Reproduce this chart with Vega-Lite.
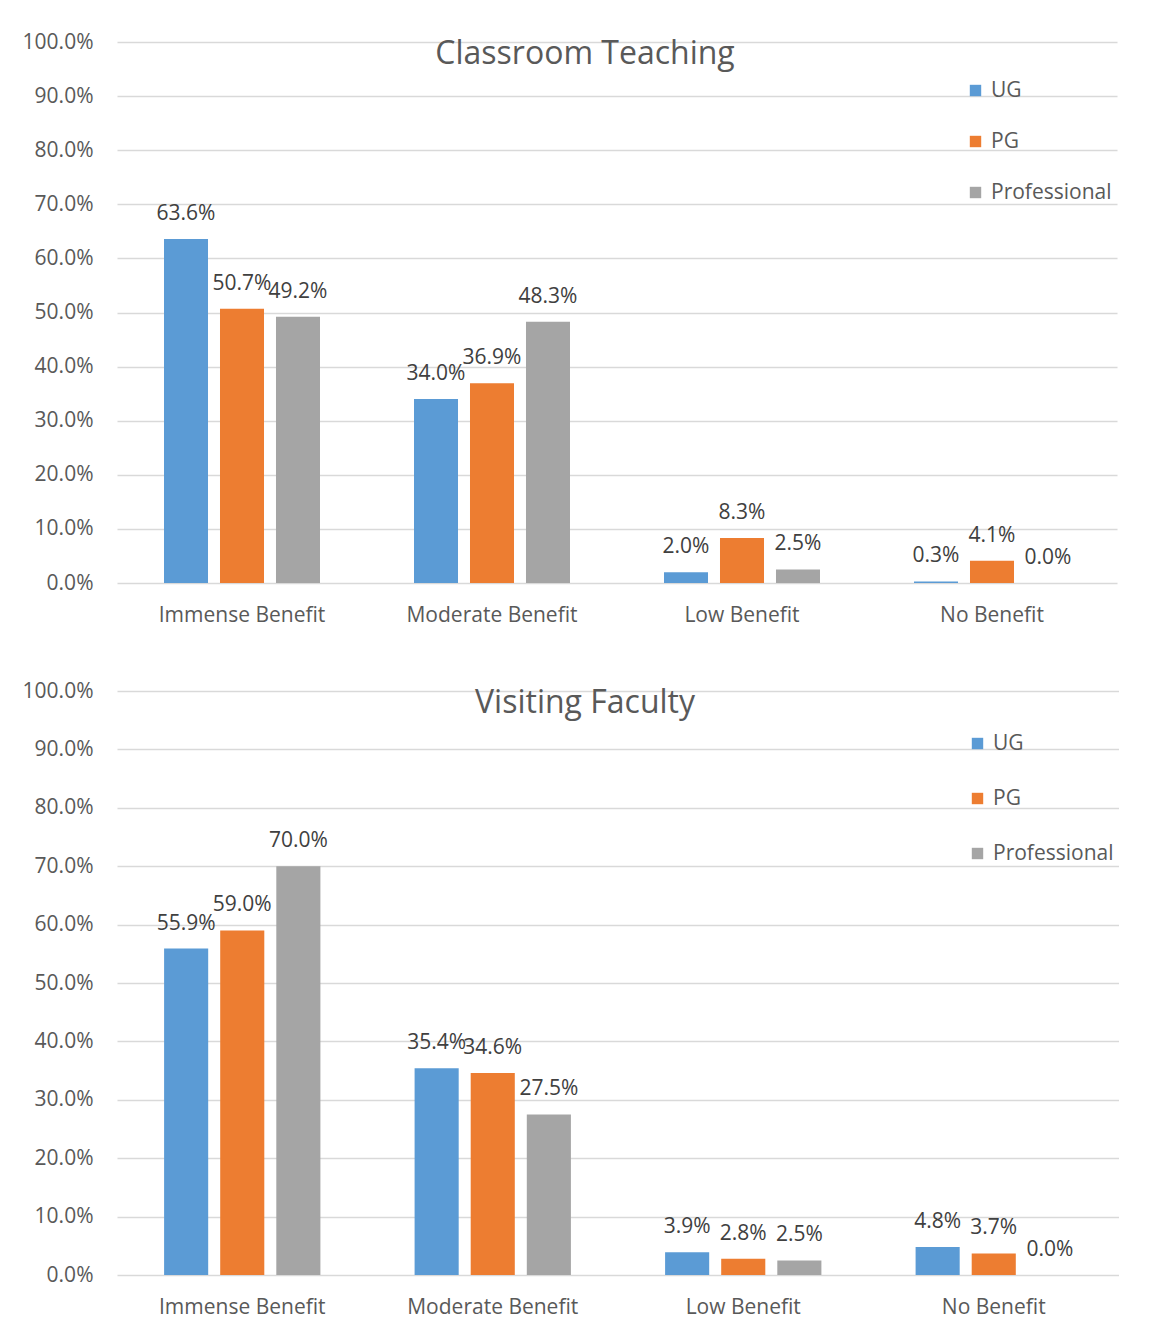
{
  "$schema": "https://vega.github.io/schema/vega-lite/v6.json",
  "background": "white",
  "padding": {"left": 22, "top": 31, "right": 0, "bottom": 20},
  "datasets": {
    "classroom": [
      {"benefit": "Immense Benefit", "group": "UG", "value": 0.636},
      {"benefit": "Immense Benefit", "group": "PG", "value": 0.507},
      {"benefit": "Immense Benefit", "group": "Professional", "value": 0.492},
      {"benefit": "Moderate Benefit", "group": "UG", "value": 0.340},
      {"benefit": "Moderate Benefit", "group": "PG", "value": 0.369},
      {"benefit": "Moderate Benefit", "group": "Professional", "value": 0.483},
      {"benefit": "Low Benefit", "group": "UG", "value": 0.020},
      {"benefit": "Low Benefit", "group": "PG", "value": 0.083},
      {"benefit": "Low Benefit", "group": "Professional", "value": 0.025},
      {"benefit": "No Benefit", "group": "UG", "value": 0.003},
      {"benefit": "No Benefit", "group": "PG", "value": 0.041},
      {"benefit": "No Benefit", "group": "Professional", "value": 0.000}
    ],
    "visiting": [
      {"benefit": "Immense Benefit", "group": "UG", "value": 0.559},
      {"benefit": "Immense Benefit", "group": "PG", "value": 0.590},
      {"benefit": "Immense Benefit", "group": "Professional", "value": 0.700},
      {"benefit": "Moderate Benefit", "group": "UG", "value": 0.354},
      {"benefit": "Moderate Benefit", "group": "PG", "value": 0.346},
      {"benefit": "Moderate Benefit", "group": "Professional", "value": 0.275},
      {"benefit": "Low Benefit", "group": "UG", "value": 0.039},
      {"benefit": "Low Benefit", "group": "PG", "value": 0.028},
      {"benefit": "Low Benefit", "group": "Professional", "value": 0.025},
      {"benefit": "No Benefit", "group": "UG", "value": 0.048},
      {"benefit": "No Benefit", "group": "PG", "value": 0.037},
      {"benefit": "No Benefit", "group": "Professional", "value": 0.000}
    ]
  },
  "config": {
    "view": {"stroke": null},
    "font": "Open Sans",
    "axis": {
      "labelFont": "Open Sans",
      "labelColor": "#595959",
      "labelFontSize": 21,
      "ticks": false,
      "domain": false,
      "title": null,
      "gridColor": "#d9d9d9",
      "gridWidth": 1.5
    },
    "legend": {
      "labelFont": "Open Sans",
      "labelColor": "#595959",
      "labelFontSize": 21,
      "symbolType": "square",
      "symbolSize": 130,
      "symbolStrokeWidth": 0,
      "labelOffset": 5,
      "title": null
    }
  },
  "bounds": "flush",
  "spacing": 108,
  "resolve": {
    "scale": {"x": "independent", "y": "independent", "color": "independent", "xOffset": "independent"},
    "legend": {"color": "independent"}
  },
  "vconcat": [
    {
      "width": 1000,
      "height": 541,
      "data": {"name": "classroom"},
      "title": {
        "text": "Classroom Teaching",
        "fontSize": 32,
        "fontWeight": "normal",
        "color": "#595959",
        "font": "Open Sans",
        "anchor": "middle",
        "frame": "group",
        "baseline": "alphabetic",
        "dx": -32,
        "offset": -65
      },
      "encoding": {
        "x": {
          "field": "benefit", "type": "nominal",
          "sort": ["Immense Benefit", "Moderate Benefit", "Low Benefit", "No Benefit"],
          "scale": {"paddingInner": 0.376, "paddingOuter": 0.188},
          "axis": {"labelAngle": 0, "labelPadding": 21, "grid": false, "labelBaseline": "top"}
        },
        "xOffset": {
          "field": "group", "type": "nominal",
          "sort": ["UG", "PG", "Professional"],
          "scale": {"paddingInner": 0.214, "paddingOuter": 0}
        },
        "y": {
          "field": "value", "type": "quantitative",
          "scale": {"domain": [0, 1]},
          "axis": {"format": ".1%", "values": [0, 0.1, 0.2, 0.3, 0.4, 0.5, 0.6, 0.7, 0.8, 0.9, 1.0], "labelPadding": 24}
        }
      },
      "layer": [
        {
          "mark": {"type": "bar"},
          "encoding": {
            "color": {
              "field": "group", "type": "nominal",
              "scale": {"domain": ["UG", "PG", "Professional"], "range": ["#5B9BD5", "#ED7D31", "#A5A5A5"]},
              "legend": {"orient": "none", "legendX": 848, "legendY": 38, "rowPadding": 29}
            }
          }
        },
        {
          "mark": {"type": "text", "fontSize": 21, "color": "#404040", "baseline": "alphabetic", "dy": -19, "font": "Open Sans"},
          "encoding": {
            "text": {"field": "value", "type": "quantitative", "format": ".1%"}
          }
        }
      ]
    },
    {
      "width": 1002,
      "height": 584,
      "data": {"name": "visiting"},
      "title": {
        "text": "Visiting Faculty",
        "fontSize": 32,
        "fontWeight": "normal",
        "color": "#595959",
        "font": "Open Sans",
        "anchor": "middle",
        "frame": "group",
        "baseline": "alphabetic",
        "dx": -33,
        "offset": -65
      },
      "encoding": {
        "x": {
          "field": "benefit", "type": "nominal",
          "sort": ["Immense Benefit", "Moderate Benefit", "Low Benefit", "No Benefit"],
          "scale": {"paddingInner": 0.376, "paddingOuter": 0.188},
          "axis": {"labelAngle": 0, "labelPadding": 21, "grid": false, "labelBaseline": "top"}
        },
        "xOffset": {
          "field": "group", "type": "nominal",
          "sort": ["UG", "PG", "Professional"],
          "scale": {"paddingInner": 0.214, "paddingOuter": 0}
        },
        "y": {
          "field": "value", "type": "quantitative",
          "scale": {"domain": [0, 1]},
          "axis": {"format": ".1%", "values": [0, 0.1, 0.2, 0.3, 0.4, 0.5, 0.6, 0.7, 0.8, 0.9, 1.0], "labelPadding": 24}
        }
      },
      "layer": [
        {
          "mark": {"type": "bar"},
          "encoding": {
            "color": {
              "field": "group", "type": "nominal",
              "scale": {"domain": ["UG", "PG", "Professional"], "range": ["#5B9BD5", "#ED7D31", "#A5A5A5"]},
              "legend": {"orient": "none", "legendX": 850, "legendY": 42, "rowPadding": 33}
            }
          }
        },
        {
          "mark": {"type": "text", "fontSize": 21, "color": "#404040", "baseline": "alphabetic", "dy": -19, "font": "Open Sans"},
          "encoding": {
            "text": {"field": "value", "type": "quantitative", "format": ".1%"}
          }
        }
      ]
    }
  ]
}
